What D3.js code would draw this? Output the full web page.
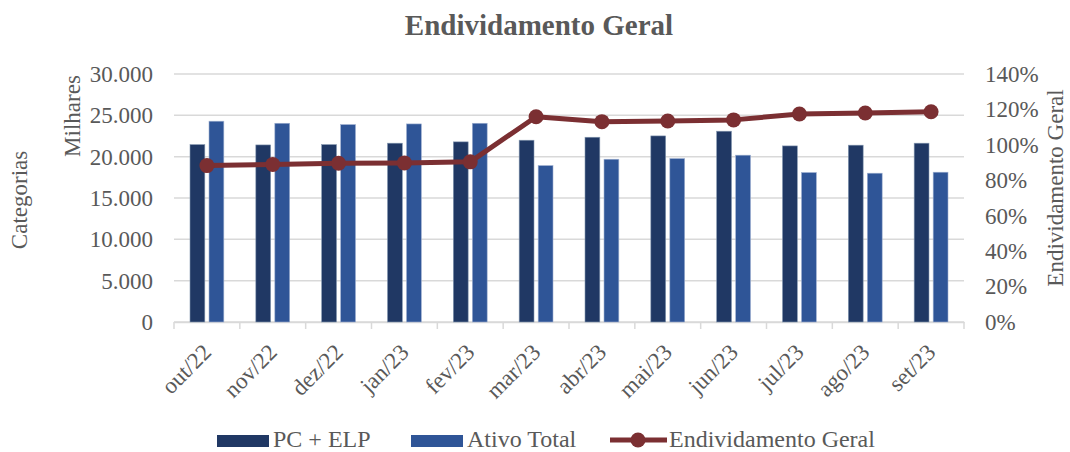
<!DOCTYPE html>
<html>
<head>
<meta charset="utf-8">
<script src="https://cdn.jsdelivr.net/npm/d3@7"></script>
<style>
  body { margin: 0; background: #fff; }
  svg text { font-family: "Liberation Serif", "DejaVu Serif", serif; fill: #595959; }
</style>
</head>
<body>
<div id="chart"></div>
<script>
const months = ["out/22", "nov/22", "dez/22", "jan/23", "fev/23", "mar/23", "abr/23", "mai/23", "jun/23", "jul/23", "ago/23", "set/23"];
const pcElp = [21460, 21420, 21460, 21630, 21790, 21990, 22350, 22510, 23080, 21300, 21390, 21630];
const ativoTotal = [24290, 24040, 23880, 23960, 24040, 18920, 19690, 19770, 20180, 18080, 18000, 18120];
const endividamento = [0.883, 0.889, 0.896, 0.898, 0.904, 1.159, 1.131, 1.135, 1.141, 1.174, 1.180, 1.187];
const leftTicks = [0, 5000, 10000, 15000, 20000, 25000, 30000];
const rightTicks = [0, 0.2, 0.4, 0.6, 0.8, 1.0, 1.2, 1.4];

const W = 1070, H = 452;
const margin = {top: 74, right: 106, bottom: 130, left: 174};
const width = W - margin.left - margin.right,
      height = H - margin.top - margin.bottom;

const svg = d3.select("#chart").append("svg")
    .attr("width", W).attr("height", H);

svg.append("text")
    .attr("x", 539).attr("y", 35)
    .attr("text-anchor", "middle")
    .attr("font-size", "29px")
    .attr("font-weight", "bold")
    .text("Endividamento Geral");

const g = svg.append("g")
    .attr("transform", "translate(" + margin.left + "," + margin.top + ")");

const x = d3.scaleBand().domain(months).range([0, width]);
const x1 = d3.scaleBand().domain(["pc", "at"]).range([16, x.bandwidth() - 16]).paddingInner(0.22);
const y = d3.scaleLinear().domain([0, 30000]).range([height, 0]);
const y2 = d3.scaleLinear().domain([0, 1.4]).range([height, 0]);

// gridlines
g.append("g")
    .selectAll("line")
    .data(leftTicks)
    .enter().append("line")
    .attr("x1", 0).attr("x2", width)
    .attr("y1", d => y(d)).attr("y2", d => y(d))
    .attr("stroke", "#d9d9d9")
    .attr("stroke-width", 1.5);

// left axis
const axisL = g.append("g")
    .call(d3.axisLeft(y).tickValues(leftTicks).tickSize(0).tickPadding(21)
        .tickFormat(d => d3.format(",")(d).replace(/,/g, ".")));
axisL.select(".domain").remove();
axisL.selectAll("text").attr("font-size", "23px").attr("font-family", "Liberation Serif").attr("fill", "#595959");

// right axis
const axisR = g.append("g")
    .attr("transform", "translate(" + width + ",0)")
    .call(d3.axisRight(y2).tickValues(rightTicks).tickSize(0).tickPadding(21)
        .tickFormat(d3.format(".0%")));
axisR.select(".domain").remove();
axisR.selectAll("text").attr("font-size", "23px").attr("font-family", "Liberation Serif").attr("fill", "#595959");

// bottom axis
const axisB = g.append("g")
    .attr("transform", "translate(0," + height + ")")
    .call(d3.axisBottom(x).tickSize(0));
axisB.select(".domain").attr("stroke", "#d9d9d9").attr("stroke-width", 1.5);
axisB.selectAll("text")
    .attr("font-size", "23px")
    .attr("font-family", "Liberation Serif")
    .attr("fill", "#595959")
    .attr("text-anchor", "end")
    .attr("x", 0).attr("y", 0)
    .attr("dy", "0.35em")
    .attr("transform", "translate(0,26) rotate(-45)");

// category boundary ticks
g.append("g")
    .selectAll("line")
    .data(d3.range(months.length + 1))
    .enter().append("line")
    .attr("x1", i => i * x.step()).attr("x2", i => i * x.step())
    .attr("y1", height).attr("y2", height + 7)
    .attr("stroke", "#d9d9d9")
    .attr("stroke-width", 1.5);

// bars
const groups = g.append("g")
    .selectAll("g")
    .data(months.map((m, i) => ({m, pc: pcElp[i], at: ativoTotal[i]})))
    .enter().append("g")
    .attr("transform", d => "translate(" + x(d.m) + ",0)");

groups.append("rect")
    .attr("x", x1("pc")).attr("width", x1.bandwidth())
    .attr("y", d => y(d.pc)).attr("height", d => height - y(d.pc))
    .attr("fill", "#203864")
    .attr("stroke", "#8497b0").attr("stroke-width", 0.6);

groups.append("rect")
    .attr("x", x1("at")).attr("width", x1.bandwidth())
    .attr("y", d => y(d.at)).attr("height", d => height - y(d.at))
    .attr("fill", "#2f5597")
    .attr("stroke", "#9dafd0").attr("stroke-width", 0.6);

// line
const lineData = months.map((m, i) => ({m, v: endividamento[i]}));
g.append("path")
    .datum(lineData)
    .attr("fill", "none")
    .attr("stroke", "#7b2f32")
    .attr("stroke-width", 5)
    .attr("stroke-linejoin", "round")
    .attr("d", d3.line().x(d => x(d.m) + x.bandwidth() / 2).y(d => y2(d.v)));

g.append("g")
    .selectAll("circle")
    .data(lineData)
    .enter().append("circle")
    .attr("cx", d => x(d.m) + x.bandwidth() / 2)
    .attr("cy", d => y2(d.v))
    .attr("r", 7.5)
    .attr("fill", "#7b2f32");

// axis titles
svg.append("text")
    .attr("transform", "translate(80,116) rotate(-90)")
    .attr("text-anchor", "middle")
    .attr("font-size", "23px")
    .text("Milhares");

svg.append("text")
    .attr("transform", "translate(27,200) rotate(-90)")
    .attr("text-anchor", "middle")
    .attr("font-size", "23px")
    .text("Categorias");

svg.append("text")
    .attr("transform", "translate(1063,188) rotate(-90)")
    .attr("text-anchor", "middle")
    .attr("font-size", "23px")
    .text("Endividamento Geral");

// legend
const legend = svg.append("g").attr("transform", "translate(0,441)");
legend.append("rect").attr("x", 217).attr("y", -6).attr("width", 52).attr("height", 12).attr("fill", "#203864");
legend.append("text").attr("x", 273).attr("y", 6).attr("font-size", "24px").text("PC + ELP");
legend.append("rect").attr("x", 411).attr("y", -6).attr("width", 52).attr("height", 12).attr("fill", "#2f5597");
legend.append("text").attr("x", 467).attr("y", 6).attr("font-size", "24px").text("Ativo Total");
legend.append("line").attr("x1", 610).attr("x2", 667).attr("y1", -1).attr("y2", -1)
    .attr("stroke", "#7b2f32").attr("stroke-width", 5);
legend.append("circle").attr("cx", 638).attr("cy", -1).attr("r", 7.5).attr("fill", "#7b2f32");
legend.append("text").attr("x", 669).attr("y", 6).attr("font-size", "24px").text("Endividamento Geral");
</script>
</body>
</html>
